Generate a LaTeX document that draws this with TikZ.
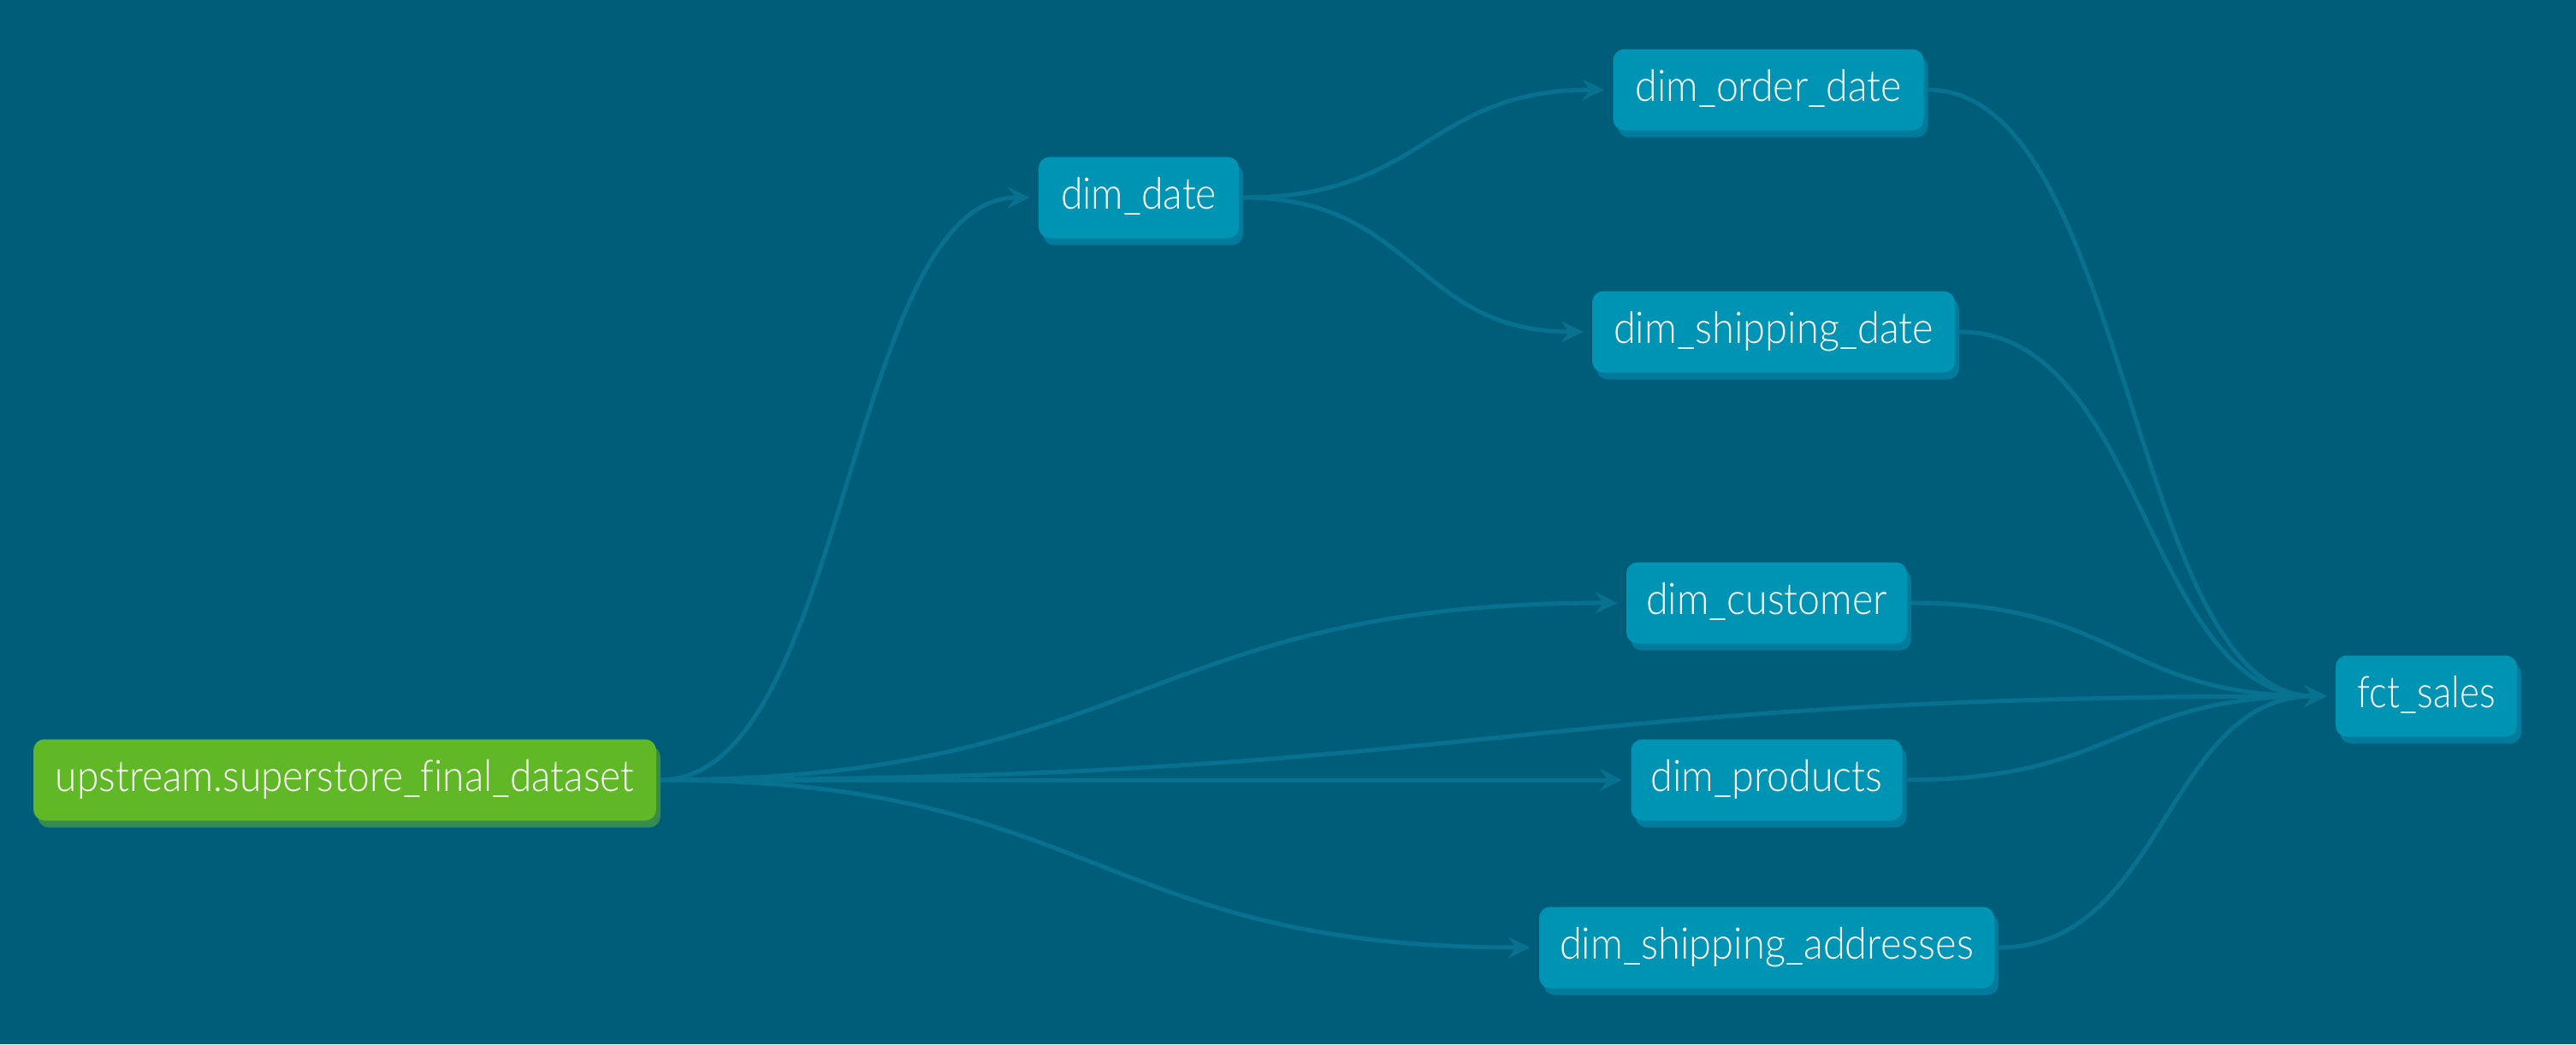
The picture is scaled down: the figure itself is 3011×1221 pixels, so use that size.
\documentclass[tikz,border=0pt]{standalone}
\usepackage{fontspec}
\IfFontExistsTF{Lato Light}{\setmainfont{Lato Light}[Ligatures=NoCommon]\def\lblsize{51}}{\setmainfont{Open Sans}[Ligatures=NoCommon]\def\lblsize{48}}
\usepackage{graphicx}
\usetikzlibrary{arrows.meta,shadows,calc}
\definecolor{bgcol}{HTML}{005D7A}
\definecolor{nodeblue}{HTML}{0094B4}
\definecolor{shadowblue}{HTML}{007B9B}
\definecolor{srcgreen}{HTML}{60B826}
\definecolor{shadowgreen}{HTML}{368C50}
\definecolor{edgecol}{HTML}{07718F}
\tikzset{
  basebox/.style={rounded corners=13pt, minimum height=95pt, text=white,
    font=\fontsize{\lblsize}{56}\selectfont, text height=26pt, text depth=0pt, inner sep=0pt},
  model/.style={basebox, fill=nodeblue,
    copy shadow={fill=shadowblue, draw=none, opacity=1, shadow xshift=5pt, shadow yshift=-8pt}},
  source/.style={basebox, fill=srcgreen,
    copy shadow={fill=shadowgreen, draw=none, opacity=1, shadow xshift=5pt, shadow yshift=-8pt}},
  edge/.style={draw=edgecol, line width=5pt, -{Stealth[length=26pt,width=25pt,inset=9pt]},
    shorten <=5pt, shorten >=10pt},
  bez/.style={to path={let \p1=(\tikztostart), \p2=(\tikztotarget), \n1={(\x2-\x1)/2} in
    .. controls ([xshift=\n1]\p1) and ([xshift=-\n1]\p2) .. (\p2) \tikztonodes}}
}
\newcommand{\lbl}[2]{\resizebox{#1pt}{\height}{#2}}
\begin{document}
\begin{tikzpicture}[x=1pt,y=-1pt]
\useasboundingbox (0,0) rectangle (3011,1221);
\fill[bgcol] (0,0) rectangle (3011,1221);

\node[source, minimum width=728pt] (up) at (403,912) {\lbl{676}{upstream.superstore\_final\_dataset}};
\node[model, minimum width=234pt] (dd) at (1331,231) {\lbl{182}{dim\_date}};
\node[model, minimum width=363pt] (od) at (2067,105) {\lbl{311}{dim\_order\_date}};
\node[model, minimum width=424pt] (sd) at (2073,388) {\lbl{374}{dim\_shipping\_date}};
\node[model, minimum width=328pt] (cu) at (2065,705) {\lbl{282}{dim\_customer}};
\node[model, minimum width=317pt] (pr) at (2065,912) {\lbl{271}{dim\_products}};
\node[model, minimum width=532pt] (ad) at (2065,1108) {\lbl{484}{dim\_shipping\_addresses}};
\node[model, minimum width=212pt] (fs) at (2836,814) {\lbl{161}{fct\_sales}};

\draw[edge] (up.east) to[bez] (dd.west);
\draw[edge] (up.east) to[bez] (cu.west);
\draw[edge] (up.east) to[bez] (fs.west);
\draw[edge] (up.east) to[bez] (pr.west);
\draw[edge] (up.east) to[bez] (ad.west);
\draw[edge] (dd.east) to[bez] (od.west);
\draw[edge] (dd.east) to[bez] (sd.west);
\draw[edge] (od.east) to[bez] (fs.west);
\draw[edge] (sd.east) to[bez] (fs.west);
\draw[edge] (cu.east) to[bez] (fs.west);
\draw[edge] (pr.east) to[bez] (fs.west);
\draw[edge] (ad.east) to[bez] (fs.west);
\end{tikzpicture}
\end{document}
